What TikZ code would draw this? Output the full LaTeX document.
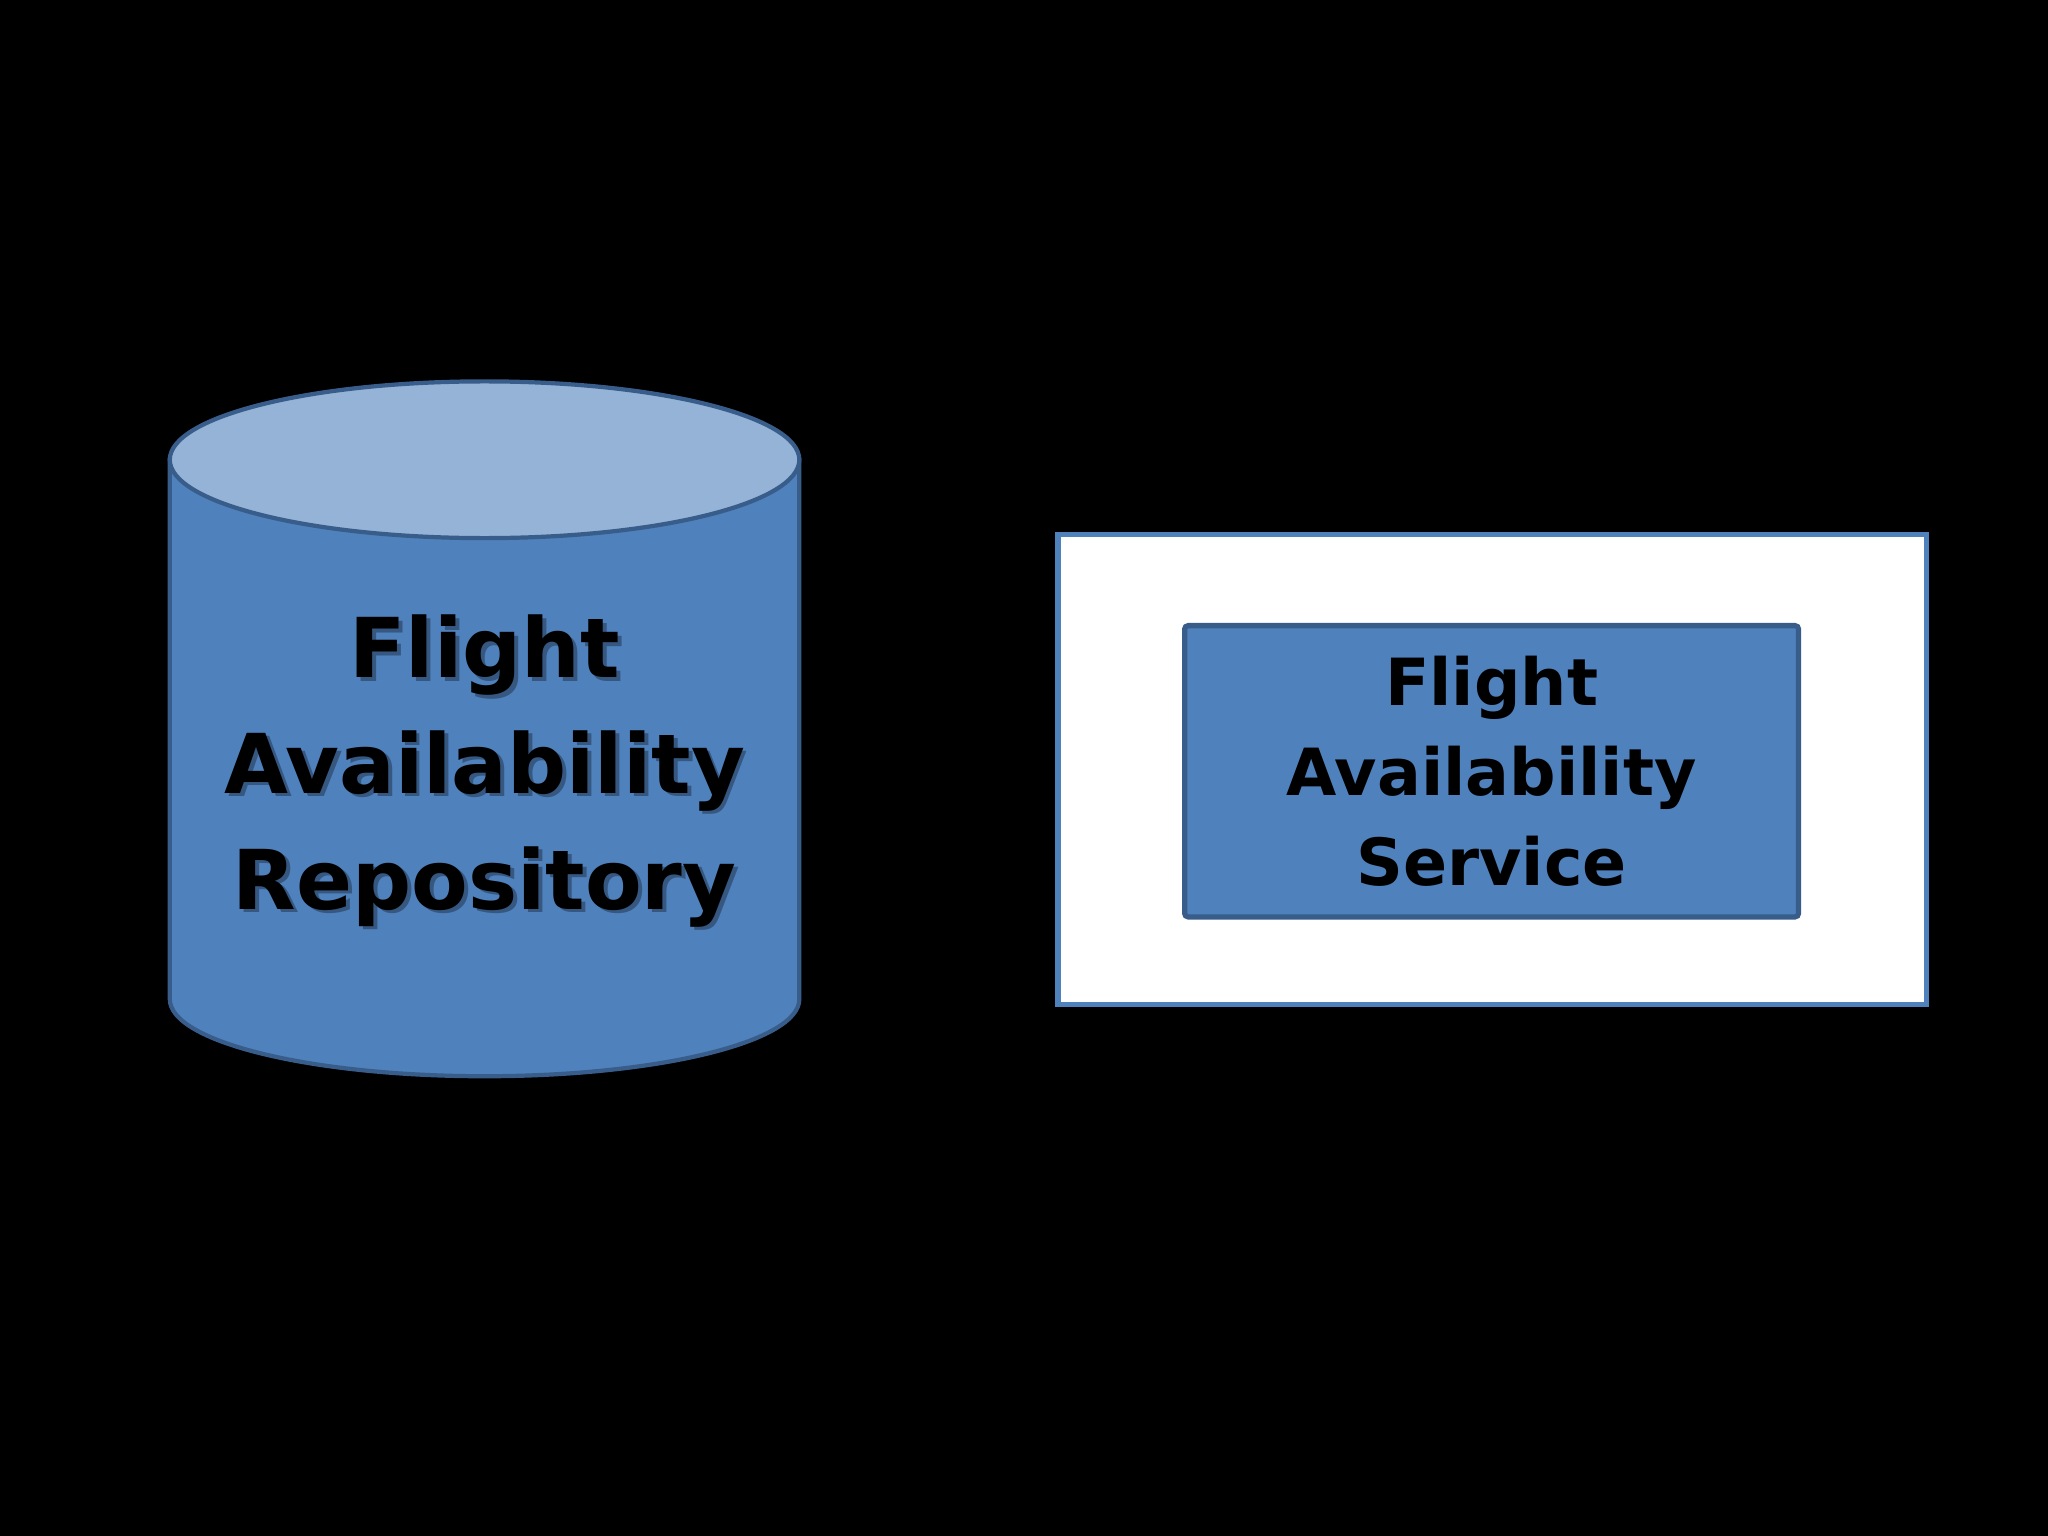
\documentclass[tikz,border=0pt]{standalone}
\usepackage{fontspec}
\setmainfont{DejaVu Sans}
\begin{document}
\begin{tikzpicture}[x=0.013061cm,y=-0.013061cm,
  bodyc/.style={fill=cylfill,draw=cyledge,line width=1.2pt},
  lbl/.style={align=center,font=\bfseries\fontsize{23.5}{33}\selectfont,text=black}]
\definecolor{cylfill}{HTML}{4F81BD}
\definecolor{cyltop}{HTML}{95B3D7}
\definecolor{cyledge}{HTML}{385D8A}
\fill[black] (0,0) rectangle (1568,1176);
\useasboundingbox (0,0) rectangle (1568,1176);
% cylinder
\path[bodyc] (130,352) -- (130,765) arc[start angle=180,end angle=0,x radius=241,y radius=59] -- (612,352) -- cycle;
\path[fill=cyltop,draw=cyledge,line width=1.2pt] (371,352) ellipse[x radius=241,y radius=60];
\node[lbl,text=black!50!cyledge,opacity=0.5] at (374,593) {Flight\\Availability\\Repository};
\node[lbl] (repo) at (371,590) {Flight\\Availability\\Repository};
% service
\node[draw=cylfill,fill=white,line width=1.5pt,minimum width=665*0.013061cm,minimum height=360*0.013061cm] (outer) at (1142.5,589) {};
\node[fill=cylfill,draw=cyledge,line width=1.5pt,rounded corners=1pt,minimum width=470*0.013061cm,minimum height=223*0.013061cm,align=center,font=\bfseries\fontsize{18.5}{25.5}\selectfont] (svc) at (1142,590.5) {Flight\\Availability\\Service};
\end{tikzpicture}
\end{document}
